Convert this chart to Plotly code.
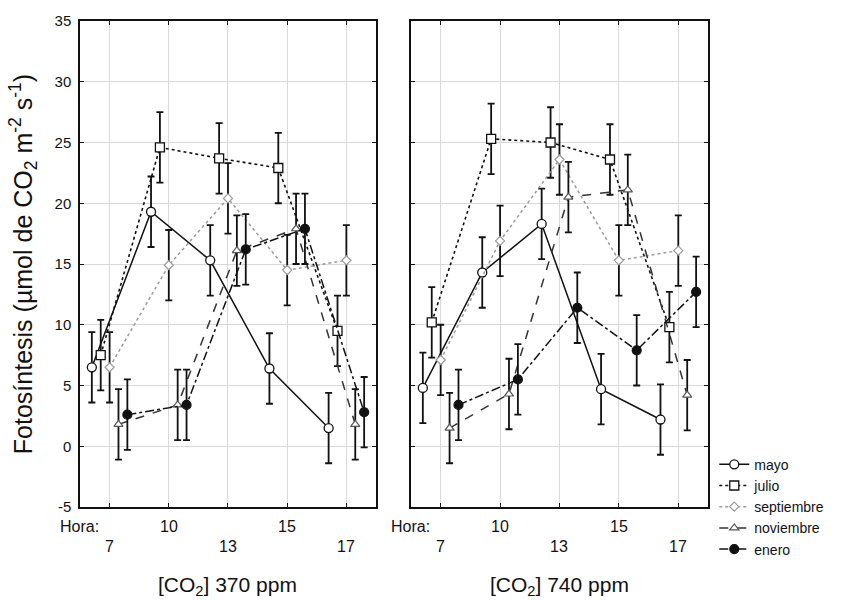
import plotly.graph_objects as go

hours = ["7", "10", "13", "15", "17"]
series_names = ["mayo", "julio", "septiembre", "noviembre", "enero"]

# CO2 370 ppm panel
mayo_370 = [6.5, 19.3, 15.3, 6.4, 1.5]
julio_370 = [7.5, 24.6, 23.7, 22.9, 9.5]
sept_370 = [6.5, 14.9, 20.4, 14.5, 15.3]
nov_370 = [1.8, 3.4, 16.1, 17.9, 1.8]
enero_370 = [2.6, 3.4, 16.2, 17.9, 2.8]

# CO2 740 ppm panel
mayo_740 = [4.8, 14.3, 18.3, 4.7, 2.2]
julio_740 = [10.2, 25.3, 25.0, 23.6, 9.8]
sept_740 = [7.1, 16.9, 23.6, 15.3, 16.1]
nov_740 = [1.5, 4.3, 20.5, 21.1, 4.2]
enero_740 = [3.4, 5.5, 11.4, 7.9, 12.7]

err = [2.9, 2.9, 2.9, 2.9, 2.9]

y_tick_vals = [-5, 0, 5, 10, 15, 20, 25, 30, 35]
y_tick_text = ["-5", "0", "5", "10", "15", "20", "25", "30", "35"]

panel_titles = ["[CO<sub>2</sub>] 370 ppm", "[CO<sub>2</sub>] 740 ppm"]
y_title = "Fotosíntesis (µmol de CO<sub>2</sub> m<sup>-2</sup> s<sup>-1</sup>)"

offsets = [-0.3, -0.15, 0.0, 0.15, 0.3]
styles = [
    dict(line=dict(color="#111", width=1.5, dash="solid"),
         marker=dict(symbol="circle", size=9, color="white", line=dict(color="#111", width=1.3))),
    dict(line=dict(color="#111", width=1.6, dash="dot"),
         marker=dict(symbol="square", size=9, color="white", line=dict(color="#111", width=1.3))),
    dict(line=dict(color="#9a9a9a", width=1.5, dash="dot"),
         marker=dict(symbol="diamond", size=7, color="white", line=dict(color="#9a9a9a", width=1.2))),
    dict(line=dict(color="#333", width=1.5, dash="dash"),
         marker=dict(symbol="triangle-up", size=8, color="white", line=dict(color="#555", width=1.2))),
    dict(line=dict(color="#111", width=1.5, dash="dashdot"),
         marker=dict(symbol="circle", size=9, color="#111", line=dict(color="#111", width=1.2))),
]

panels = [
    [mayo_370, julio_370, sept_370, nov_370, enero_370],
    [mayo_740, julio_740, sept_740, nov_740, enero_740],
]

fig = go.Figure()
for p, data in enumerate(panels):
    xa = "x" if p == 0 else "x2"
    for k, vals in enumerate(data):
        xs = [i + offsets[k] for i in range(len(hours))]
        fig.add_trace(go.Scatter(
            x=xs, y=vals, mode="lines+markers", name=series_names[k],
            xaxis=xa, yaxis="y" if p == 0 else "y2",
            showlegend=(p == 0),
            error_y=dict(type="data", array=err, color="#111", thickness=1.8, width=3.5),
            **styles[k]))

axis_common = dict(showgrid=True, gridcolor="#d9d9d9", gridwidth=1, zeroline=False,
                   showline=True, linecolor="#111", linewidth=1.5, mirror="allticks",
                   ticks="inside", ticklen=4, tickcolor="#111")

fig.update_layout(
    width=850, height=602,
    margin=dict(l=80, r=142, t=13, b=95),
    paper_bgcolor="white", plot_bgcolor="white",
    font=dict(family="Arial, Liberation Sans, sans-serif", color="#111", size=15),
    xaxis=dict(domain=[0, 0.4713], range=[-0.5, 4.5], tickvals=list(range(5)),
               showticklabels=False, **axis_common),
    xaxis2=dict(domain=[0.527, 1.0], range=[-0.5, 4.5], tickvals=list(range(5)),
                showticklabels=False, **axis_common),
    yaxis=dict(range=[-5, 35], tickvals=y_tick_vals, ticktext=y_tick_text,
               tickfont=dict(size=15), ticklabelstandoff=4,
               title=dict(text=y_title, font=dict(size=25), standoff=15), **axis_common),
    yaxis2=dict(range=[-5, 35], tickvals=y_tick_vals, anchor="x2", showticklabels=False,
                **axis_common),
    legend=dict(x=1.01, y=0.12, xanchor="left", yanchor="top", bgcolor="rgba(0,0,0,0)",
                font=dict(size=14), tracegroupgap=0, itemwidth=30),
)

ann = []
for p in range(2):
    xr = "x" if p == 0 else "x2"
    for i, h in enumerate(hours):
        upper = i in (1, 3)
        ann.append(dict(text=h, x=i, y=-0.040 if upper else -0.082, xref=xr, yref="paper",
                        showarrow=False, font=dict(size=16), yanchor="middle"))
    ann.append(dict(text="Hora:", x=-0.15, y=-0.040, xref=xr, yref="paper", xanchor="right",
                    showarrow=False, font=dict(size=16), yanchor="middle"))
    ann.append(dict(text=panel_titles[p], x=2, y=-0.162, xref=xr, yref="paper",
                    showarrow=False, font=dict(size=21), yanchor="middle"))
fig.update_layout(annotations=ann)

fig.write_html("out.html")
